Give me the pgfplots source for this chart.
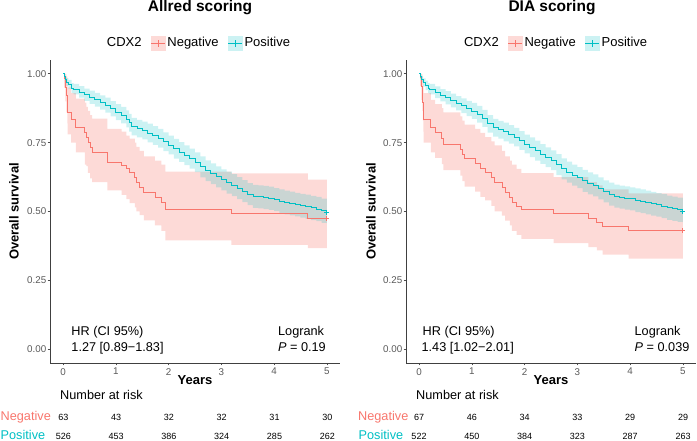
\documentclass[border=0pt]{standalone}
\usepackage{pgfplots}
\pgfplotsset{compat=1.18}
\usepackage{pgfplotstable}
\usepgfplotslibrary{fillbetween}
\usepackage{fontspec}
\setmainfont{Liberation Sans}
\definecolor{negc}{HTML}{F8766D}
\definecolor{posc}{HTML}{00BFC4}

\pgfplotstableread{
t s lo hi
0 1.000 1.000 1.000
0.02 0.984 0.95 1.000
0.04 0.952 0.90 1.000
0.06 0.921 0.86 0.99
0.08 0.889 0.82 0.97
0.085 0.860 0.78 0.95
0.15 0.836 0.75 0.93
0.24 0.806 0.715 0.91
0.41 0.787 0.67 0.895
0.44 0.769 0.665 0.88
0.47 0.751 0.64 0.865
0.51 0.733 0.62 0.85
0.55 0.715 0.607 0.837
0.84 0.679 0.577 0.80
1.11 0.667 0.56 0.79
1.20 0.655 0.545 0.775
1.26 0.642 0.53 0.765
1.36 0.624 0.515 0.75
1.39 0.606 0.50 0.735
1.45 0.588 0.487 0.72
1.53 0.570 0.468 0.70
1.74 0.552 0.45 0.685
1.86 0.534 0.43 0.67
1.94 0.507 0.395 0.645
3.19 0.492 0.379 0.638
4.64 0.474 0.367 0.616
5.00 0.474 0.367 0.616
}\allneg

\pgfplotstableread{
t s lo hi
0 1.000 1.000 1.000
0.02 0.990 0.982 0.998
0.04 0.980 0.969 0.991
0.06 0.970 0.956 0.984
0.10 0.962 0.946 0.978
0.16 0.948 0.930 0.966
0.20 0.944 0.925 0.963
0.30 0.934 0.913 0.955
0.40 0.924 0.902 0.946
0.50 0.915 0.891 0.939
0.60 0.906 0.881 0.931
0.70 0.896 0.870 0.922
0.80 0.886 0.859 0.913
0.90 0.873 0.845 0.901
1.00 0.861 0.832 0.890
1.10 0.850 0.820 0.880
1.20 0.836 0.805 0.867
1.25 0.822 0.790 0.854
1.30 0.808 0.776 0.840
1.40 0.801 0.769 0.833
1.50 0.794 0.762 0.826
1.60 0.785 0.751 0.819
1.70 0.776 0.742 0.810
1.80 0.766 0.732 0.800
1.90 0.753 0.719 0.787
2.00 0.741 0.707 0.775
2.10 0.728 0.692 0.764
2.20 0.716 0.680 0.752
2.30 0.704 0.668 0.740
2.40 0.692 0.656 0.728
2.50 0.679 0.643 0.715
2.60 0.662 0.624 0.700
2.70 0.648 0.610 0.686
2.80 0.637 0.599 0.675
2.90 0.626 0.588 0.664
3.00 0.615 0.577 0.653
3.10 0.605 0.565 0.645
3.20 0.596 0.556 0.636
3.30 0.585 0.545 0.625
3.40 0.574 0.534 0.614
3.50 0.563 0.523 0.603
3.60 0.555 0.513 0.597
3.70 0.553 0.511 0.595
3.80 0.551 0.509 0.593
3.90 0.548 0.506 0.590
4.00 0.543 0.501 0.585
4.10 0.537 0.494 0.580
4.20 0.533 0.490 0.576
4.30 0.529 0.486 0.572
4.40 0.525 0.482 0.568
4.50 0.521 0.478 0.564
4.60 0.517 0.473 0.561
4.70 0.513 0.469 0.557
4.80 0.509 0.465 0.553
4.90 0.503 0.459 0.547
5.00 0.497 0.453 0.541
}\allpos

\pgfplotstableread{
t s lo hi
0 1.000 1.000 1.000
0.02 0.985 0.955 1.000
0.04 0.955 0.905 1.000
0.06 0.925 0.865 0.99
0.07 0.896 0.83 0.97
0.08 0.866 0.79 0.95
0.085 0.836 0.75 0.93
0.22 0.806 0.715 0.905
0.30 0.787 0.695 0.89
0.43 0.766 0.672 0.875
0.46 0.745 0.65 0.86
0.78 0.727 0.63 0.845
0.82 0.709 0.61 0.83
0.86 0.691 0.59 0.815
1.06 0.673 0.572 0.80
1.16 0.655 0.553 0.785
1.25 0.642 0.54 0.77
1.37 0.624 0.52 0.755
1.43 0.606 0.50 0.74
1.57 0.588 0.485 0.72
1.63 0.570 0.467 0.70
1.72 0.552 0.45 0.685
1.76 0.534 0.43 0.67
1.85 0.520 0.415 0.655
1.94 0.507 0.401 0.639
2.55 0.492 0.385 0.625
3.21 0.474 0.371 0.607
3.37 0.461 0.359 0.595
3.48 0.446 0.343 0.58
3.97 0.431 0.329 0.566
5.00 0.431 0.329 0.566
}\dianeg

\pgfplotstableread{
t s lo hi
0 1.000 1.000 1.000
0.02 0.990 0.982 0.998
0.04 0.981 0.970 0.992
0.076 0.968 0.953 0.983
0.12 0.958 0.941 0.975
0.17 0.948 0.930 0.966
0.20 0.944 0.925 0.963
0.30 0.933 0.912 0.954
0.40 0.922 0.900 0.944
0.50 0.913 0.889 0.937
0.60 0.903 0.878 0.928
0.70 0.893 0.867 0.919
0.80 0.884 0.857 0.911
0.90 0.874 0.846 0.902
1.00 0.865 0.836 0.894
1.10 0.853 0.823 0.883
1.20 0.838 0.807 0.869
1.30 0.818 0.786 0.850
1.40 0.804 0.772 0.836
1.50 0.797 0.765 0.829
1.60 0.789 0.755 0.823
1.70 0.780 0.746 0.814
1.80 0.770 0.736 0.804
1.90 0.758 0.724 0.792
2.00 0.745 0.711 0.779
2.10 0.733 0.697 0.769
2.20 0.721 0.685 0.757
2.30 0.709 0.673 0.745
2.40 0.697 0.661 0.733
2.50 0.686 0.650 0.722
2.60 0.670 0.632 0.708
2.70 0.655 0.617 0.693
2.80 0.643 0.605 0.681
2.90 0.632 0.594 0.670
3.00 0.623 0.585 0.661
3.10 0.611 0.571 0.651
3.20 0.602 0.562 0.642
3.30 0.595 0.555 0.635
3.40 0.584 0.544 0.624
3.50 0.573 0.533 0.613
3.60 0.563 0.521 0.605
3.70 0.556 0.514 0.598
3.80 0.552 0.510 0.594
3.90 0.549 0.507 0.591
4.00 0.546 0.504 0.588
4.10 0.541 0.498 0.584
4.20 0.537 0.494 0.580
4.30 0.533 0.490 0.576
4.40 0.528 0.485 0.571
4.50 0.524 0.481 0.567
4.60 0.520 0.476 0.564
4.70 0.514 0.470 0.558
4.80 0.510 0.466 0.554
4.90 0.506 0.462 0.550
5.00 0.501 0.457 0.545
}\diapos

\newcommand{\fT}{\fontsize{15.5bp}{17bp}\selectfont\bfseries}
\newcommand{\fL}{\fontsize{12.7bp}{14bp}\selectfont}
\newcommand{\fB}{\fontsize{13bp}{14bp}\selectfont\bfseries}
\newcommand{\fN}{\fontsize{9bp}{10bp}\selectfont}

\pgfplotsset{
  km/.style={scale only axis, width=290bp, height=303bp,
    xmin=-0.25, xmax=5.25, ymin=-0.05, ymax=1.05,
    axis x line*=bottom, axis y line*=left,
    axis line style={line width=0.6bp, black!75, -},
    xtick={0,1,2,3,4,5}, ytick={0,0.25,0.5,0.75,1},
    yticklabels={0.00,0.25,0.50,0.75,1.00},
    tick style={line width=0.6bp, black!70},
    tick align=outside, major tick length=2.5bp,
    ticklabel style={font=\fontsize{9.8bp}{11bp}\selectfont, text=black!65},
    yticklabel style={inner xsep=1bp},
    xticklabel style={inner ysep=2.5bp},
    /pgf/number format/assume math mode=true,
    clip=false,
    legend style={draw=none, fill=none, legend columns=-1, anchor=center,
      font=\fontsize{13bp}{15bp}\selectfont,
      /tikz/every even column/.append style={column sep=7bp},
      nodes={inner xsep=2bp}},
  },
  negleg/.style={legend image code/.code={
     \fill[negc!27] (0bp,-7bp) rectangle (14bp,7bp);
     \draw[negc, line width=0.8bp] (0bp,0bp)--(14bp,0bp);
     \draw[negc, line width=0.8bp] (7bp,-3.5bp)--(7bp,3.5bp);}},
  posleg/.style={legend image code/.code={
     \fill[posc!20] (0bp,-7bp) rectangle (14bp,7bp);
     \draw[posc, line width=0.8bp] (0bp,0bp)--(14bp,0bp);
     \draw[posc, line width=0.8bp] (7bp,-3.5bp)--(7bp,3.5bp);}},
}

\begin{document}
\begin{tikzpicture}

% ---------- Allred ----------
\begin{axis}[km, at={(50bp,78bp)}, anchor=south west, legend style={at={(0.512,1.056)}}]
\addlegendimage{empty legend}\addlegendentry{CDX2}
\addlegendimage{negleg}\addlegendentry{Negative}
\addlegendimage{posleg}\addlegendentry{Positive}
\addplot[const plot, draw=none, name path=nhi, forget plot] table[x=t,y=hi]{\allneg};
\addplot[const plot, draw=none, name path=nlo, forget plot] table[x=t,y=lo]{\allneg};
\addplot[fill=negc, fill opacity=0.27, draw=none, forget plot] fill between[of=nhi and nlo];
\addplot[const plot, draw=none, name path=phi, forget plot] table[x=t,y=hi]{\allpos};
\addplot[const plot, draw=none, name path=plo, forget plot] table[x=t,y=lo]{\allpos};
\addplot[fill=posc, fill opacity=0.2, draw=none, forget plot] fill between[of=phi and plo];
\addplot[const plot, negc, line width=0.85bp, forget plot] table[x=t,y=s]{\allneg};
\addplot[const plot, posc, line width=0.85bp, forget plot] table[x=t,y=s]{\allpos};
\addplot[only marks, mark=+, mark size=2.5bp, negc, line width=0.8bp, forget plot] coordinates {(5,0.474)};
\addplot[only marks, mark=+, mark size=2.5bp, posc, line width=0.8bp, forget plot] coordinates {(5,0.497)};
\node[anchor=base west, font=\fL] at (axis cs:0.09,0.051) {HR (CI 95\%)};
\node[anchor=base west, font=\fL] at (axis cs:0.09,-0.007) {1.27 [0.89−1.83]};
\node[anchor=base west, font=\fL] at (axis cs:4.01,0.051) {Logrank};
\node[anchor=base west, font=\fL] at (axis cs:4.01,-0.007) {\textit{P} = 0.19};
\end{axis}

% ---------- DIA ----------
\begin{axis}[km, at={(406bp,78bp)}, anchor=south west, legend style={at={(0.516,1.056)}}]
\addlegendimage{empty legend}\addlegendentry{CDX2}
\addlegendimage{negleg}\addlegendentry{Negative}
\addlegendimage{posleg}\addlegendentry{Positive}
\addplot[const plot, draw=none, name path=nhi, forget plot] table[x=t,y=hi]{\dianeg};
\addplot[const plot, draw=none, name path=nlo, forget plot] table[x=t,y=lo]{\dianeg};
\addplot[fill=negc, fill opacity=0.27, draw=none, forget plot] fill between[of=nhi and nlo];
\addplot[const plot, draw=none, name path=phi, forget plot] table[x=t,y=hi]{\diapos};
\addplot[const plot, draw=none, name path=plo, forget plot] table[x=t,y=lo]{\diapos};
\addplot[fill=posc, fill opacity=0.2, draw=none, forget plot] fill between[of=phi and plo];
\addplot[const plot, negc, line width=0.85bp, forget plot] table[x=t,y=s]{\dianeg};
\addplot[const plot, posc, line width=0.85bp, forget plot] table[x=t,y=s]{\diapos};
\addplot[only marks, mark=+, mark size=2.5bp, negc, line width=0.8bp, forget plot] coordinates {(5,0.431)};
\addplot[only marks, mark=+, mark size=2.5bp, posc, line width=0.8bp, forget plot] coordinates {(5,0.501)};
\node[anchor=base west, font=\fL] at (axis cs:0.0,0.051) {HR (CI 95\%)};
\node[anchor=base west, font=\fL] at (axis cs:-0.02,-0.007) {1.43 [1.02−2.01]};
\node[anchor=base west, font=\fL] at (axis cs:4.02,0.051) {Logrank};
\node[anchor=base west, font=\fL] at (axis cs:4.02,-0.007) {\textit{P} = 0.039};
\end{axis}

% ---------- titles and labels ----------
\node[anchor=base, font=\fT] at (200bp,429bp) {Allred scoring};
\node[anchor=base, font=\fT] at (552bp,429bp) {DIA scoring};
\node[rotate=90, anchor=center, font=\fB] at (14bp,229.5bp) {Overall survival};
\node[rotate=90, anchor=center, font=\fB] at (371bp,229.5bp) {Overall survival};
\node[anchor=base, font=\fB] at (195bp,56bp) {Years};
\node[anchor=base, font=\fB] at (551bp,56bp) {Years};
\node[anchor=base west, font=\fL, inner sep=0pt] at (60bp,41bp) {Number at risk};
\node[anchor=base west, font=\fL, inner sep=0pt] at (416bp,41bp) {Number at risk};
% risk tables
\node[anchor=base west, font=\fL, text=negc, inner sep=0pt] at (0.5bp,21bp) {Negative};
\node[anchor=base west, font=\fL, text=posc, inner sep=0pt] at (0.5bp,1.5bp) {Positive};
\node[anchor=base west, font=\fL, text=negc, inner sep=0pt] at (358bp,21bp) {Negative};
\node[anchor=base west, font=\fL, text=posc, inner sep=0pt] at (358.5bp,1.5bp) {Positive};
\foreach \v [count=\i from 0] in {63,43,32,32,31,30}{
  \node[anchor=base, font=\fN, inner sep=0pt] at ({63.3bp+52.8bp*\i},21bp) {\v};}
\foreach \v [count=\i from 0] in {526,453,386,324,285,262}{
  \node[anchor=base, font=\fN, inner sep=0pt] at ({63.3bp+52.8bp*\i},1.5bp) {\v};}
\foreach \v [count=\i from 0] in {67,46,34,33,29,29}{
  \node[anchor=base, font=\fN, inner sep=0pt] at ({419bp+52.8bp*\i},21bp) {\v};}
\foreach \v [count=\i from 0] in {522,450,384,323,287,263}{
  \node[anchor=base, font=\fN, inner sep=0pt] at ({419bp+52.8bp*\i},1.5bp) {\v};}

\pgfresetboundingbox
\path[use as bounding box] (0bp,0bp) rectangle (697bp,441bp);
\end{tikzpicture}
\end{document}
